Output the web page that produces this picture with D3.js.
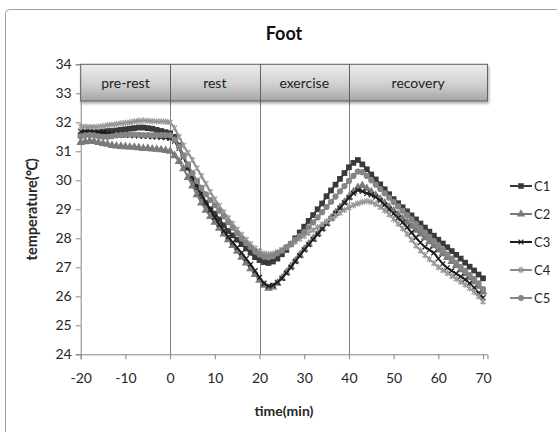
<!DOCTYPE html>
<html>
<head>
<meta charset="UTF-8">
<script src="https://d3js.org/d3.v7.min.js"></script>
<style>
  body { margin: 0; background: #fff; }
  text { font-family: Lato, "Open Sans", sans-serif; fill: #262626; }
</style>
</head>
<body>
<svg width="557" height="432"></svg>
<script>
var minutes = [-20,-19,-18,-17,-16,-15,-14,-13,-12,-11,-10,-9,-8,-7,-6,-5,-4,-3,-2,-1,0,
  1,2,3,4,5,6,7,8,9,10,11,12,13,14,15,16,17,18,19,20,
  21,22,23,24,25,26,27,28,29,30,31,32,33,34,35,36,37,38,39,40,
  41,42,43,44,45,46,47,48,49,50,51,52,53,54,55,56,57,58,59,60,61,62,63,64,65,66,67,68,69,70];

var c1 = [31.55,31.6,31.62,31.65,31.66,31.68,31.7,31.7,31.72,31.74,31.76,31.78,31.8,31.82,31.82,31.8,31.78,31.74,31.7,31.66,31.62,
  31.5,31.2,30.85,30.45,30.05,29.75,29.45,29.2,29.0,28.85,28.65,28.45,28.25,28.1,27.95,27.8,27.65,27.5,27.35,27.25,
  27.18,27.15,27.2,27.3,27.45,27.6,27.8,28.0,28.2,28.4,28.6,28.8,29.0,29.2,29.45,29.65,29.85,30.05,30.25,30.45,
  30.6,30.7,30.55,30.38,30.2,30.03,29.86,29.69,29.52,29.35,29.21,29.07,28.93,28.79,28.65,28.51,28.37,28.23,28.09,27.95,27.82,27.69,27.56,27.43,27.3,27.16,27.02,26.89,26.75,26.62];
var c2 = [31.3,31.33,31.35,31.34,31.3,31.27,31.24,31.2,31.18,31.17,31.16,31.15,31.14,31.12,31.1,31.1,31.08,31.07,31.05,31.03,31.0,
  30.85,30.65,30.4,30.1,29.8,29.5,29.22,28.97,28.75,28.55,28.35,28.15,27.95,27.75,27.55,27.35,27.15,26.95,26.75,26.55,
  26.38,26.28,26.32,26.45,26.62,26.82,27.02,27.22,27.42,27.62,27.8,27.98,28.16,28.34,28.52,28.7,28.88,29.06,29.24,29.42,
  29.6,29.75,29.82,29.72,29.6,29.48,29.35,29.22,29.08,28.95,28.82,28.68,28.55,28.42,28.28,28.15,28.02,27.88,27.74,27.6,27.47,27.34,27.2,27.06,26.92,26.78,26.64,26.5,26.35,26.15];
var c3 = [31.68,31.7,31.7,31.68,31.66,31.64,31.62,31.6,31.58,31.57,31.56,31.55,31.54,31.53,31.52,31.52,31.5,31.5,31.48,31.47,31.45,
  31.35,31.1,30.8,30.45,30.15,29.85,29.55,29.25,28.98,28.72,28.48,28.26,28.05,27.86,27.68,27.5,27.3,27.1,26.88,26.65,
  26.45,26.35,26.38,26.48,26.62,26.8,27.0,27.2,27.4,27.6,27.78,27.96,28.14,28.32,28.5,28.68,28.86,29.04,29.22,29.4,
  29.55,29.66,29.62,29.55,29.5,29.42,29.3,29.15,29.0,28.85,28.7,28.55,28.38,28.2,28.02,27.85,27.7,27.6,27.5,27.3,27.12,26.98,26.88,26.78,26.68,26.58,26.45,26.3,26.12,25.95];
var c4 = [31.85,31.85,31.84,31.84,31.85,31.87,31.9,31.92,31.94,31.96,31.98,32.0,32.03,32.05,32.06,32.05,32.04,32.03,32.03,32.02,32.0,
  31.8,31.5,31.2,30.95,30.7,30.42,30.15,29.88,29.6,29.35,29.12,28.9,28.7,28.5,28.3,28.12,27.95,27.8,27.65,27.55,
  27.48,27.45,27.47,27.52,27.6,27.68,27.78,27.88,27.98,28.08,28.18,28.28,28.38,28.48,28.58,28.68,28.78,28.88,28.98,29.06,
  29.14,29.2,29.25,29.28,29.25,29.18,29.08,28.96,28.82,28.66,28.5,28.34,28.15,27.95,27.75,27.58,27.42,27.28,27.14,27.0,26.9,26.8,26.7,26.6,26.5,26.4,26.28,26.15,26.0,25.82];
var c5 = [31.52,31.55,31.56,31.55,31.52,31.5,31.5,31.52,31.55,31.56,31.57,31.58,31.58,31.57,31.56,31.56,31.55,31.55,31.56,31.56,31.55,
  31.4,31.15,30.85,30.55,30.25,29.98,29.74,29.52,29.32,29.14,28.95,28.76,28.56,28.37,28.18,28.0,27.84,27.7,27.56,27.45,
  27.38,27.36,27.4,27.48,27.58,27.7,27.82,27.95,28.08,28.22,28.38,28.55,28.72,28.9,29.08,29.26,29.44,29.62,29.8,29.98,
  30.15,30.3,30.28,30.15,30.0,29.85,29.7,29.55,29.4,29.25,29.1,28.95,28.8,28.65,28.5,28.35,28.2,28.05,27.9,27.75,27.6,27.45,27.3,27.16,27.02,26.88,26.74,26.6,26.45,26.25];

var seriesNames = ["C1", "C2", "C3", "C4", "C5"];
var xTicks = [-20, -10, 0, 10, 20, 30, 40, 50, 60, 70];
var yTicks = [24, 25, 26, 27, 28, 29, 30, 31, 32, 33, 34];
var phaseNames = ["pre-rest", "rest", "exercise", "recovery"];
var phaseStart = [-20, 0, 20, 40];
var phaseEnd = [0, 20, 40, 71];

var allSeries = [c1, c2, c3, c4, c5];
var colors = ["#3a3a3a", "#7a7a7a", "#1e1e1e", "#9a9a9a", "#858585"];
var lineColors = ["#3a3a3a", "#7a7a7a", "#1e1e1e", "#8a8a8a", "#858585"];

var svg = d3.select("svg");

// chart area frame (cut off at right/bottom in the original)
svg.append("rect").attr("x", 5.5).attr("y", 9.5).attr("width", 600).attr("height", 500)
  .attr("rx", 4).attr("fill", "#fff").attr("stroke", "#a0a0a0");

var x = d3.scaleLinear().domain([-20, 71]).range([80.7, 487.5]);
var y = d3.scaleLinear().domain([24, 34]).range([354.3, 64.3]);

// title
svg.append("text").attr("x", 284).attr("y", 40).attr("text-anchor", "middle")
  .style("font-size", "18px").style("font-weight", "bold").style("fill", "#111").text("Foot");

// axes
var yAxis = svg.append("g").attr("transform", "translate(" + x(-20) + ",0)")
  .call(d3.axisLeft(y).tickValues(yTicks).tickSize(5).tickPadding(4).tickFormat(function(d) { return String(d); }));
var xAxis = svg.append("g").attr("transform", "translate(0," + y(24) + ")")
  .call(d3.axisBottom(x).tickValues(xTicks).tickSize(5).tickPadding(14).tickFormat(function(d) { return String(d); }));
[xAxis, yAxis].forEach(function(a) {
  a.select(".domain").attr("stroke", "#868686");
  a.selectAll(".tick line").attr("stroke", "#868686");
  a.selectAll(".tick text").style("font-size", "14px").style("fill", "#262626").style("font-family", "Lato, sans-serif");
});

// phase boundaries
svg.selectAll(".phase-line").data(phaseStart.slice(1)).enter().append("line")
  .attr("x1", function(d) { return Math.round(x(d)) + 0.5; })
  .attr("x2", function(d) { return Math.round(x(d)) + 0.5; })
  .attr("y1", 101).attr("y2", y(24))
  .attr("stroke", "#7f7f7f").attr("stroke-width", 1);

// phase bar
var defs = svg.append("defs");
var grad = defs.append("linearGradient").attr("id", "barGrad").attr("x1", 0).attr("x2", 0).attr("y1", 0).attr("y2", 1);
grad.append("stop").attr("offset", "0%").attr("stop-color", "#ececec");
grad.append("stop").attr("offset", "55%").attr("stop-color", "#d0d0d0");
grad.append("stop").attr("offset", "100%").attr("stop-color", "#a4a4a4");
var shadow = defs.append("filter").attr("id", "shadow").attr("x", "-5%").attr("y", "-20%").attr("width", "110%").attr("height", "160%");
shadow.append("feDropShadow").attr("dx", 1).attr("dy", 2).attr("stdDeviation", 1.5).attr("flood-color", "#000").attr("flood-opacity", 0.35);

var barTop = y(34), barBottom = 101;
svg.append("rect").attr("x", x(-20)).attr("y", barTop).attr("width", x(71) - x(-20)).attr("height", barBottom - barTop)
  .attr("fill", "url(#barGrad)").attr("stroke", "#606060").attr("stroke-width", 1).attr("filter", "url(#shadow)");
svg.selectAll(".phase-sep").data(phaseStart.slice(1)).enter().append("line")
  .attr("x1", function(d) { return Math.round(x(d)) + 0.5; })
  .attr("x2", function(d) { return Math.round(x(d)) + 0.5; })
  .attr("y1", barTop).attr("y2", barBottom).attr("stroke", "#606060");
svg.selectAll(".phase-label").data(phaseNames).enter().append("text")
  .attr("x", function(d, i) { return (x(phaseStart[i]) + x(phaseEnd[i])) / 2; })
  .attr("y", (barTop + barBottom) / 2 + 5)
  .attr("text-anchor", "middle").style("font-size", "14px").style("fill", "#222")
  .text(function(d) { return d; });

// axis titles
svg.append("text").attr("x", 284).attr("y", 416).attr("text-anchor", "middle")
  .style("font-size", "14px").style("font-weight", "bold").text("time(min)");
svg.append("text").attr("transform", "translate(37," + ((y(24) + y(34)) / 2) + ") rotate(-90)")
  .attr("text-anchor", "middle").style("font-size", "14.5px").style("font-weight", "bold").text("temperature(\u2103)");

// markers
function markerPath(i, s) {
  if (i === 0) return d3.symbol().type(d3.symbolSquare).size(s * 1.1)();
  if (i === 1) return d3.symbol().type(d3.symbolTriangle).size(s * 1.1)();
  if (i === 4) return d3.symbol().type(d3.symbolCircle).size(s)();
  var r = Math.sqrt(s) / 2.2;
  if (i === 2) return "M" + -r + "," + -r + "L" + r + "," + r + "M" + -r + "," + r + "L" + r + "," + -r;
  return "M" + -r + "," + -r + "L" + r + "," + r + "M" + -r + "," + r + "L" + r + "," + -r + "M0," + (-r * 1.3) + "L0," + (r * 1.3);
}

var line = d3.line().x(function(d) { return x(d[0]); }).y(function(d) { return y(d[1]); });

allSeries.forEach(function(vals, i) {
  var pts = minutes.map(function(m, k) { return [m, vals[k]]; });
  var g = svg.append("g");
  g.append("path").datum(pts).attr("d", line).attr("fill", "none")
    .attr("stroke", lineColors[i]).attr("stroke-width", 2);
  var stroked = (i === 2 || i === 3);
  g.selectAll("path.m").data(pts).enter().append("path").attr("class", "m")
    .attr("transform", function(d) { return "translate(" + x(d[0]) + "," + y(d[1]) + ")"; })
    .attr("d", markerPath(i, 30))
    .attr("fill", stroked ? "none" : colors[i])
    .attr("stroke", stroked ? colors[i] : "none")
    .attr("stroke-width", 1.2);
});

// legend
var legend = svg.append("g");
seriesNames.forEach(function(name, i) {
  var ly = 186 + i * 28;
  legend.append("line").attr("x1", 510).attr("x2", 532).attr("y1", ly).attr("y2", ly)
    .attr("stroke", lineColors[i]).attr("stroke-width", 2);
  var stroked = (i === 2 || i === 3);
  legend.append("path").attr("transform", "translate(521," + ly + ")")
    .attr("d", markerPath(i, 28))
    .attr("fill", stroked ? "none" : colors[i])
    .attr("stroke", stroked ? colors[i] : "none").attr("stroke-width", 1.2);
  legend.append("text").attr("x", 534).attr("y", ly + 5).style("font-size", "13px").text(name);
});
</script>
</body>
</html>
